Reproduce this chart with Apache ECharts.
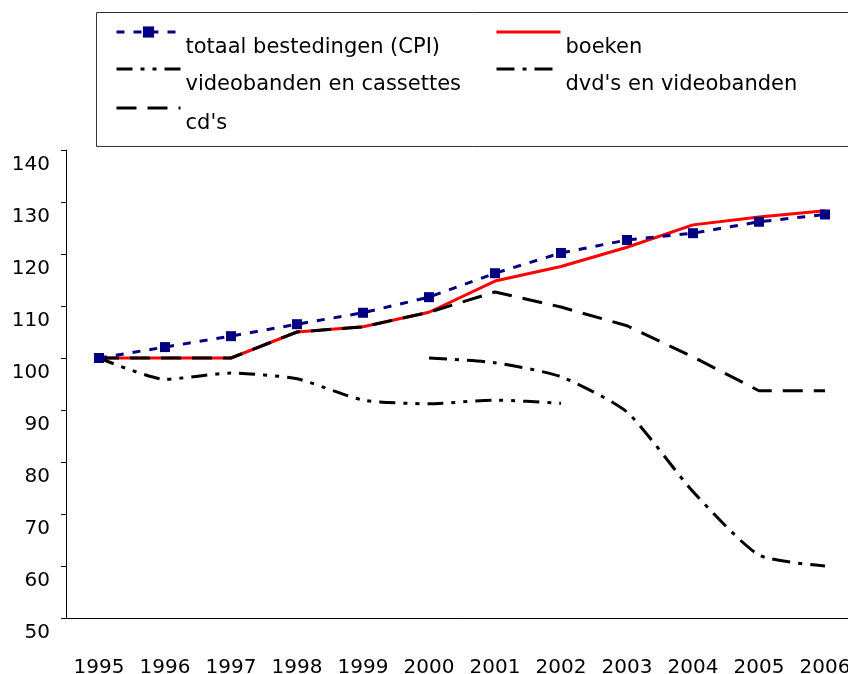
<!DOCTYPE html>
<html>
<head>
<meta charset="utf-8">
<script src="https://cdn.jsdelivr.net/npm/echarts@6/dist/echarts.min.js"></script>
<style>
  html, body { margin: 0; padding: 0; background: #fff; }
  #chart { width: 848px; height: 674px; }
</style>
</head>
<body>
<div id="chart"></div>
<script>
// years on the category axis
const years = ["1995", "1996", "1997", "1998", "1999", "2000", "2001", "2002", "2003", "2004", "2005", "2006"];

// index values (1995 = 100)
const cpi = [100, 102.1, 104.2, 106.5, 108.7, 111.7, 116.3, 120.2, 122.7, 124, 126.2, 127.6];
const boeken = [100, 100, 100, 105, 106, 108.8, 114.8, 117.6, 121.3, 125.6, 127.1, 128.3];
const videobanden = [100, 95.9, 97.1, 96, 91.9, 91.2, 91.9, 91.3, null, null, null, null];
const dvds = [null, null, null, null, null, 100, 99.1, 96.4, 89.6, 74.3, 62.1, 60];
const cds = [100, 100, 100, 105, 106, 108.8, 112.7, 109.8, 106.2, 100.2, 93.7, 93.7];

const FONT = "DejaVu Sans";

const chart = echarts.init(document.getElementById("chart"), null, { renderer: "canvas" });

// one legend per entry so they can sit in two columns like the original.
// the label goes on a second line so it hangs below the icon
function legendItem(name, left, top, hideSymbol) {
  return {
    data: [name],
    left: left,
    top: top,
    padding: 0,
    itemWidth: 64,
    itemHeight: 14,
    selectedMode: false,
    itemStyle: hideSymbol ? { opacity: 0 } : {},
    lineStyle: { width: 3 },
    formatter: n => "\n" + n,
    textStyle: { fontFamily: FONT, fontSize: 21, color: "#000", lineHeight: 31 }
  };
}

const option = {
  animation: false,
  backgroundColor: "#fff",
  textStyle: { fontFamily: FONT },
  graphic: [{
    type: "rect",
    shape: { x: 96.5, y: 12.5, width: 800, height: 134 },
    style: { fill: "none", stroke: "#333", lineWidth: 1 },
    z: -1
  }],
  legend: [
    legendItem("totaal bestedingen (CPI)", 115, 1, false),
    legendItem("boeken", 495, 1, true),
    legendItem("videobanden en cassettes", 115, 38, true),
    legendItem("dvd's en videobanden", 495, 38, true),
    legendItem("cd's", 115, 77, true)
  ],
  // plot runs past the right edge, like the cropped original
  grid: { left: 66, top: 150, right: -10, bottom: 56, outerBoundsMode: "none" },
  xAxis: {
    type: "category",
    data: years,
    boundaryGap: true,
    axisLine: { lineStyle: { color: "#000", width: 1 } },
    axisTick: { length: 6, interval: 0, lineStyle: { color: "#000" } },
    axisLabel: { interval: 0, margin: 40, fontSize: 20, color: "#000", fontFamily: FONT }
  },
  yAxis: {
    type: "value",
    min: 50,
    max: 140,
    interval: 10,
    splitLine: { show: false },
    axisLine: { show: true, lineStyle: { color: "#000", width: 1 } },
    axisTick: { show: true, length: 5, lineStyle: { color: "#000" } },
    // labels hang below their tick, as in the original
    axisLabel: {
      margin: 16, fontSize: 20, color: "#000", fontFamily: FONT,
      verticalAlign: "top",
      lineHeight: 30,
      showMinLabel: true,
      showMaxLabel: true
    }
  },
  series: [
    {
      name: "totaal bestedingen (CPI)",
      type: "line",
      data: cpi,
      symbol: "rect",
      symbolSize: 10,
      itemStyle: { color: "#000080" },
      lineStyle: { color: "#000080", width: 3, type: [8, 9] },
      z: 5
    },
    {
      name: "boeken",
      type: "line",
      data: boeken,
      symbol: "none",
      lineStyle: { color: "#ff0000", width: 3 },
      itemStyle: { color: "#ff0000" },
      z: 3
    },
    {
      name: "videobanden en cassettes",
      type: "line",
      data: videobanden,
      symbol: "none",
      smooth: 0.2,
      lineStyle: { color: "#000", width: 3, type: [16, 8, 4, 8, 4, 8] },
      itemStyle: { color: "#000" }
    },
    {
      name: "dvd's en videobanden",
      type: "line",
      data: dvds,
      symbol: "none",
      smooth: 0.2,
      lineStyle: { color: "#000", width: 3, type: [18, 8, 4, 8] },
      itemStyle: { color: "#000" }
    },
    {
      name: "cd's",
      type: "line",
      data: cds,
      symbol: "none",
      lineStyle: { color: "#000", width: 3, type: [20, 11] },
      itemStyle: { color: "#000" },
      z: 4
    }
  ]
};

chart.setOption(option);
</script>
</body>
</html>
